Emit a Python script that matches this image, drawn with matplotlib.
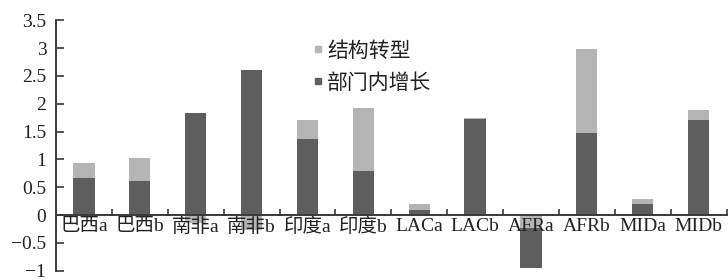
import numpy as np
import matplotlib
matplotlib.use("Agg")
import matplotlib.pyplot as plt
from matplotlib.lines import Line2D

plt.rcParams["font.family"] = ["Liberation Serif", "Noto Sans CJK SC"]
plt.rcParams["axes.unicode_minus"] = True

DARK, LIGHT, INK = "#5e5e5e", "#b4b4b4", "#3a3a3a"

cats = ["巴西a", "巴西b", "南非a", "南非b", "印度a", "印度b",
        "LACa", "LACb", "AFRa", "AFRb", "MIDa", "MIDb"]
within = [0.67, 0.61, 1.84, 2.60, 1.36, 0.79, 0.10, 1.73, -0.72, 1.48, 0.19, 1.71]   # 部门内增长
struct = [0.27, 0.42, -0.15, -0.27, 0.35, 1.14, 0.09, 0.02, -0.23, 1.50, 0.10, 0.18]  # 结构转型

w = np.array(within)
s = np.array(struct)
x = np.arange(len(cats))

fig = plt.figure(figsize=(7.28, 2.8), dpi=100)
ax = fig.add_axes([0.077, 0.033, 0.921, 0.895])

# positive parts stack within -> struct, negative parts stack struct -> within
w_bot = np.where(w < 0, np.minimum(s, 0), 0)
s_bot = np.where(s >= 0, np.maximum(w, 0), 0)
ax.bar(x, w, bottom=w_bot, width=0.38, color=DARK, zorder=1)
ax.bar(x, s, bottom=s_bot, width=0.38, color=LIGHT, zorder=1)

ax.set_xlim(-0.5, 11.5)
ax.set_ylim(-1, 3.5)
ax.set_yticks(np.arange(-1, 3.51, 0.5))
ax.set_yticklabels(["−1", "−0.5", "0", "0.5", "1", "1.5", "2", "2.5", "3", "3.5"])
ax.tick_params(axis="y", direction="in", length=6, width=1.2, color=INK,
               labelsize=14, pad=7, labelcolor="#222222")

ax.spines["top"].set_visible(False)
ax.spines["right"].set_visible(False)
ax.spines["bottom"].set_position(("data", 0))
for sp in ("left", "bottom"):
    ax.spines[sp].set_linewidth(1.4)
    ax.spines[sp].set_color(INK)

ax.set_xticks(x + 0.5)
ax.set_xticklabels([])
ax.tick_params(axis="x", which="major", direction="in", length=4, width=1.2, color=INK)
ax.set_xticks(x, minor=True)
ax.set_xticklabels(cats, minor=True)
ax.tick_params(axis="x", which="minor", length=0, labelsize=14, pad=2, labelcolor="#222222")

handles = [Line2D([], [], ls="none", marker="s", ms=5, color=LIGHT),
           Line2D([], [], ls="none", marker="s", ms=5, color=DARK)]
ax.legend(handles, ["结构转型", "部门内增长"], loc="upper left",
          bbox_to_anchor=(0.37, 0.947), frameon=False, fontsize=15,
          handlelength=0.5, handletextpad=0.2, labelspacing=0.6,
          borderaxespad=0, labelcolor="#222222")

fig.savefig("out.png", dpi=100)
